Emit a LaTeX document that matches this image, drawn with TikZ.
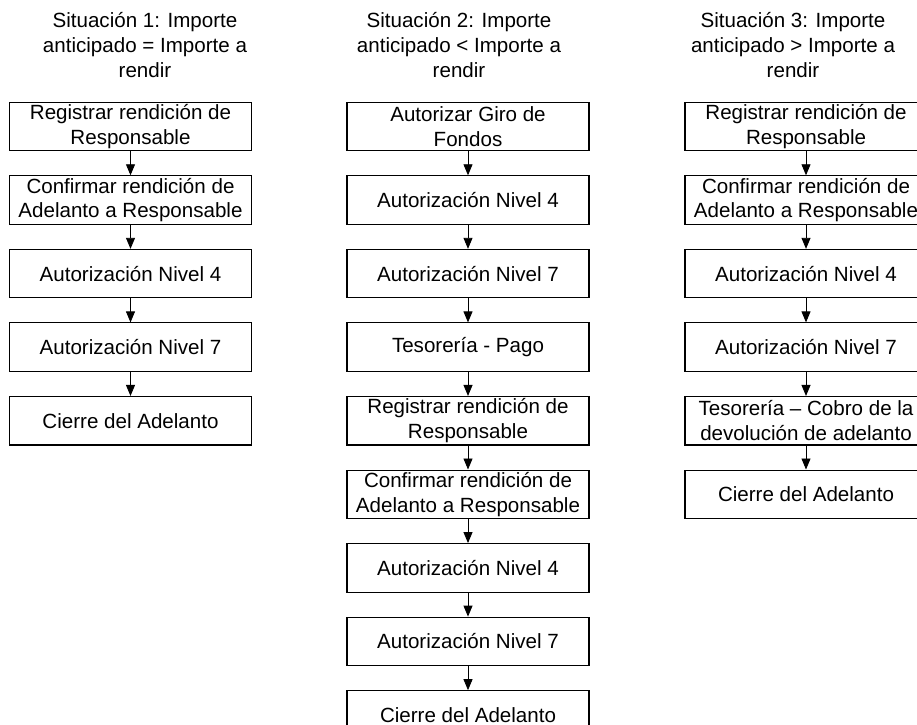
\documentclass[tikz,border=0pt]{standalone}
\usepackage{fontspec}
\setmainfont{Liberation Sans}
\usetikzlibrary{positioning, arrows.meta}

\begin{document}
\begin{tikzpicture}[
  font=\fontsize{11.7}{14.2}\selectfont,
  node distance=0.48cm,
  arr/.style={-{Triangle[length=0.22cm, width=0.18cm]}, line width=0.5pt},
  blk/.style={draw, line width=0.6pt, align=center, inner sep=0pt,
              minimum width=4.84cm, minimum height=0.97cm},
  ttl/.style={align=center, inner sep=0pt},
]
\useasboundingbox (0,0) rectangle (18.34,-14.48);

%% ===== TITLES =====

\node[ttl] (t1) at (2.90,-0.90)
    {Situación 1: Importe\\anticipado = Importe a\\rendir};
\node[ttl] (t2) at (9.18,-0.90)
    {Situación 2: Importe\\anticipado < Importe a\\rendir};
\node[ttl] (t3) at (15.86,-0.90)
    {Situación 3: Importe\\anticipado > Importe a\\rendir};

%% ===== SITUACION 1 =====

\node[blk] (s1reg) at (2.61,-2.53) {Registrar rendición de\\Responsable};
\node[blk, below=of s1reg]   (s1conf)   {Confirmar rendición de\\Adelanto a Responsable};
\node[blk, below=of s1conf]  (s1niv4)   {Autorización Nivel 4};
\node[blk, below=of s1niv4]  (s1niv7)   {Autorización Nivel 7};
\node[blk, below=of s1niv7]  (s1cierre) {Cierre del Adelanto};

%% ===== SITUACION 2 =====

\node[blk] (s2giro) at (9.36,-2.53) {Autorizar Giro de\\Fondos};
\node[blk, below=of s2giro]  (s2niv4)   {Autorización Nivel 4};
\node[blk, below=of s2niv4]  (s2niv7)   {Autorización Nivel 7};
\node[blk, below=of s2niv7]  (s2pago)   {Tesorería - Pago};
\node[blk, below=of s2pago]  (s2reg)    {Registrar rendición de\\Responsable};
\node[blk, below=of s2reg]   (s2conf)   {Confirmar rendición de\\Adelanto a Responsable};
\node[blk, below=of s2conf]  (s2niv4b)  {Autorización Nivel 4};
\node[blk, below=of s2niv4b] (s2niv7b)  {Autorización Nivel 7};
\node[blk, below=of s2niv7b] (s2cierre) {Cierre del Adelanto};

%% ===== SITUACION 3 =====

\node[blk] (s3reg) at (16.12,-2.53) {Registrar rendición de\\Responsable};
\node[blk, below=of s3reg]   (s3conf)   {Confirmar rendición de\\Adelanto a Responsable};
\node[blk, below=of s3conf]  (s3niv4)   {Autorización Nivel 4};
\node[blk, below=of s3niv4]  (s3niv7)   {Autorización Nivel 7};
\node[blk, below=of s3niv7]  (s3cobro)  {Tesorería -- Cobro de la\\devolución de adelanto};
\node[blk, below=of s3cobro] (s3cierre) {Cierre del Adelanto};

%% ===== ARROWS =====

\draw[arr] (s1reg)  -- (s1conf);
\draw[arr] (s1conf) -- (s1niv4);
\draw[arr] (s1niv4) -- (s1niv7);
\draw[arr] (s1niv7) -- (s1cierre);

\draw[arr] (s2giro)  -- (s2niv4);
\draw[arr] (s2niv4)  -- (s2niv7);
\draw[arr] (s2niv7)  -- (s2pago);
\draw[arr] (s2pago)  -- (s2reg);
\draw[arr] (s2reg)   -- (s2conf);
\draw[arr] (s2conf)  -- (s2niv4b);
\draw[arr] (s2niv4b) -- (s2niv7b);
\draw[arr] (s2niv7b) -- (s2cierre);

\draw[arr] (s3reg)   -- (s3conf);
\draw[arr] (s3conf)  -- (s3niv4);
\draw[arr] (s3niv4)  -- (s3niv7);
\draw[arr] (s3niv7)  -- (s3cobro);
\draw[arr] (s3cobro) -- (s3cierre);

\end{tikzpicture}
\end{document}
